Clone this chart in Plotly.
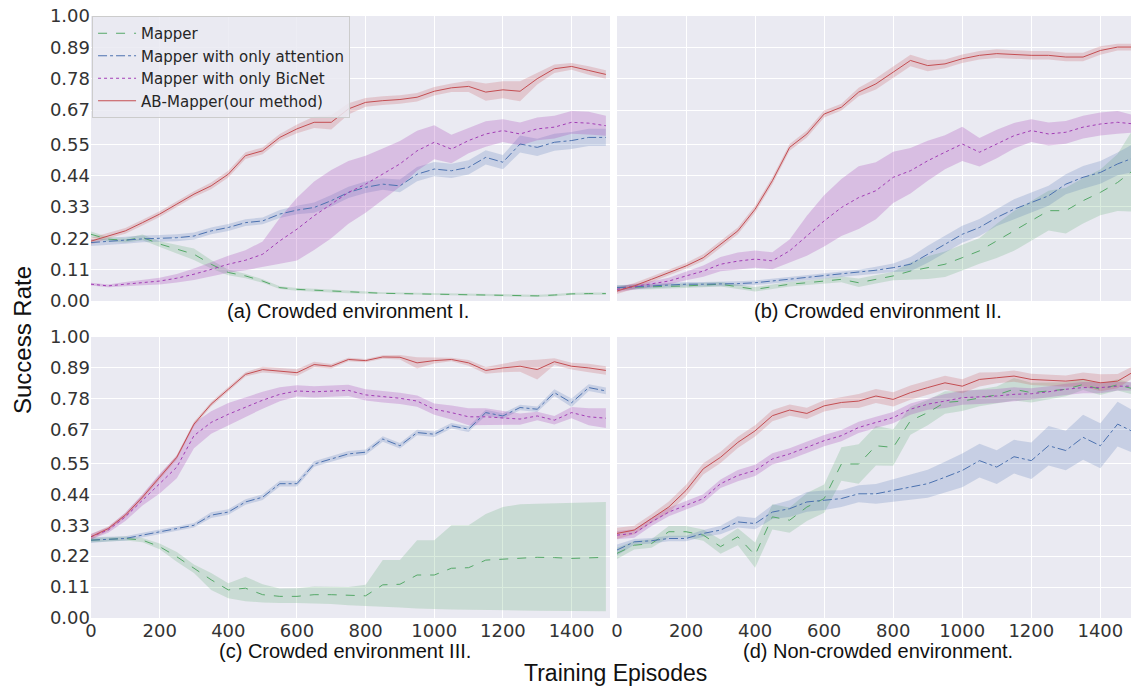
import plotly.graph_objects as go

# ---------------- data ----------------
episodes = list(range(0, 1501, 50))

series_names = ["Mapper", "Mapper with only attention", "Mapper with only BicNet", "AB-Mapper(our method)"]
series_colors = ["#55A868", "#4C72B0", "#A23DB5", "#C44E52"]
series_fills = ["rgba(85,168,104,0.22)", "rgba(76,114,176,0.22)", "rgba(162,61,181,0.25)", "rgba(196,78,82,0.22)"]
series_dash = ["dash", "dashdot", "dot", "solid"]

panel_titles = ["(a) Crowded environment I.", "(b) Crowded environment II.",
                "(c) Crowded environment III.", "(d) Non-crowded environment."]
y_tick_vals = [0.0, 0.11, 0.22, 0.33, 0.44, 0.55, 0.67, 0.78, 0.89, 1.0]
y_tick_text = ["0.00", "0.11", "0.22", "0.33", "0.44", "0.55", "0.67", "0.78", "0.89", "1.00"]
x_tick_vals = [0, 200, 400, 600, 800, 1000, 1200, 1400]

# Panel (a)
a_mapper = [0.234, 0.217, 0.213, 0.223, 0.2, 0.182, 0.164, 0.129, 0.1, 0.088, 0.07, 0.047, 0.041, 0.038, 0.035, 0.032,
            0.029, 0.027, 0.026, 0.025, 0.024, 0.023, 0.022, 0.021, 0.02, 0.019, 0.018, 0.021, 0.025, 0.026, 0.026]
a_mapper_hw = [0.01, 0.008, 0.008, 0.01, 0.01, 0.015, 0.02, 0.015, 0.01, 0.008, 0.006, 0.005, 0.005, 0.005, 0.005, 0.005,
               0.004, 0.004, 0.004, 0.004, 0.004, 0.004, 0.004, 0.004, 0.004, 0.004, 0.004, 0.004, 0.004, 0.004, 0.004]
a_att = [0.205, 0.21, 0.213, 0.218, 0.22, 0.222, 0.228, 0.246, 0.258, 0.275, 0.281, 0.305, 0.319, 0.328, 0.352, 0.381,
         0.399, 0.41, 0.404, 0.445, 0.463, 0.457, 0.469, 0.504, 0.487, 0.551, 0.539, 0.557, 0.563, 0.574, 0.574]
a_att_hw = [0.012, 0.012, 0.012, 0.012, 0.012, 0.012, 0.012, 0.012, 0.012, 0.012, 0.012, 0.014, 0.015, 0.018, 0.02, 0.02,
            0.02, 0.02, 0.022, 0.025, 0.025, 0.025, 0.025, 0.025, 0.025, 0.03, 0.03, 0.03, 0.03, 0.03, 0.03]
a_bic = [0.059, 0.053, 0.059, 0.065, 0.07, 0.08, 0.094, 0.111, 0.129, 0.143, 0.164, 0.211, 0.252, 0.299, 0.34, 0.381,
         0.41, 0.445, 0.481, 0.527, 0.557, 0.533, 0.563, 0.586, 0.598, 0.586, 0.604, 0.61, 0.627, 0.624, 0.615]
a_bic_hw = [0.005, 0.005, 0.008, 0.01, 0.012, 0.015, 0.02, 0.025, 0.03, 0.035, 0.045, 0.08, 0.11, 0.12, 0.12, 0.11,
            0.1, 0.09, 0.08, 0.07, 0.06, 0.05, 0.045, 0.045, 0.04, 0.04, 0.04, 0.04, 0.04, 0.04, 0.035]
a_ab = [0.21, 0.229, 0.246, 0.275, 0.305, 0.34, 0.375, 0.404, 0.445, 0.51, 0.527, 0.574, 0.604, 0.627, 0.627, 0.674,
        0.697, 0.703, 0.707, 0.715, 0.736, 0.748, 0.753, 0.733, 0.741, 0.736, 0.78, 0.815, 0.823, 0.809, 0.795]
a_ab_hw = [0.012, 0.01, 0.01, 0.01, 0.01, 0.01, 0.01, 0.012, 0.012, 0.012, 0.012, 0.012, 0.015, 0.02, 0.025, 0.02,
           0.015, 0.015, 0.015, 0.015, 0.015, 0.015, 0.02, 0.03, 0.03, 0.035, 0.02, 0.015, 0.012, 0.015, 0.015]

# Panel (b)
b_mapper = [0.047, 0.048, 0.049, 0.051, 0.053, 0.056, 0.059, 0.05, 0.041, 0.05, 0.059, 0.064, 0.07, 0.076, 0.064, 0.076,
            0.088, 0.105, 0.117, 0.129, 0.152, 0.176, 0.211, 0.246, 0.281, 0.317, 0.317, 0.352, 0.381, 0.416, 0.463]
b_mapper_hw = [0.008, 0.008, 0.008, 0.008, 0.008, 0.008, 0.008, 0.008, 0.008, 0.008, 0.008, 0.008, 0.008, 0.01, 0.015, 0.015,
               0.015, 0.03, 0.04, 0.045, 0.045, 0.045, 0.06, 0.07, 0.07, 0.07, 0.08, 0.08, 0.08, 0.1, 0.15]
b_att = [0.047, 0.05, 0.053, 0.056, 0.059, 0.059, 0.059, 0.061, 0.064, 0.07, 0.076, 0.082, 0.088, 0.094, 0.1, 0.108,
         0.117, 0.129, 0.164, 0.199, 0.234, 0.258, 0.293, 0.322, 0.346, 0.369, 0.41, 0.434, 0.451, 0.481, 0.504]
b_att_hw = [0.008, 0.008, 0.008, 0.008, 0.008, 0.008, 0.008, 0.008, 0.008, 0.008, 0.008, 0.008, 0.008, 0.008, 0.01, 0.012,
            0.015, 0.025, 0.03, 0.03, 0.03, 0.03, 0.03, 0.035, 0.035, 0.035, 0.035, 0.04, 0.04, 0.04, 0.05]
b_bic = [0.041, 0.05, 0.059, 0.07, 0.088, 0.105, 0.129, 0.14, 0.147, 0.141, 0.176, 0.229, 0.281, 0.328, 0.363, 0.387,
         0.434, 0.457, 0.492, 0.522, 0.551, 0.522, 0.551, 0.58, 0.598, 0.586, 0.592, 0.61, 0.621, 0.627, 0.621]
b_bic_hw = [0.01, 0.01, 0.01, 0.012, 0.015, 0.02, 0.025, 0.03, 0.03, 0.03, 0.04, 0.07, 0.09, 0.1, 0.11, 0.1,
            0.09, 0.08, 0.07, 0.06, 0.06, 0.05, 0.05, 0.045, 0.04, 0.04, 0.04, 0.04, 0.04, 0.04, 0.03]
b_ab = [0.035, 0.053, 0.076, 0.1, 0.123, 0.152, 0.199, 0.246, 0.322, 0.422, 0.539, 0.586, 0.656, 0.68, 0.733, 0.762,
        0.803, 0.844, 0.826, 0.832, 0.85, 0.862, 0.868, 0.865, 0.862, 0.862, 0.856, 0.856, 0.879, 0.891, 0.891]
b_ab_hw = [0.01, 0.01, 0.01, 0.01, 0.01, 0.012, 0.012, 0.012, 0.012, 0.012, 0.012, 0.012, 0.012, 0.012, 0.015, 0.02,
           0.02, 0.02, 0.02, 0.015, 0.015, 0.015, 0.015, 0.015, 0.015, 0.015, 0.015, 0.015, 0.015, 0.012, 0.012]

# Panel (c)
c_mapper = [0.277, 0.28, 0.283, 0.277, 0.254, 0.218, 0.177, 0.136, 0.1, 0.106, 0.083, 0.077, 0.077, 0.083, 0.083, 0.081,
            0.079, 0.118, 0.12, 0.153, 0.153, 0.177, 0.179, 0.206, 0.209, 0.213, 0.216, 0.215, 0.212, 0.214, 0.216]
c_mapper_lo = [0.27, 0.272, 0.276, 0.27, 0.245, 0.2, 0.16, 0.1, 0.07, 0.06, 0.055, 0.053, 0.053, 0.052, 0.05, 0.045,
               0.041, 0.04, 0.037, 0.034, 0.031, 0.03, 0.029, 0.028, 0.027, 0.027, 0.026, 0.026, 0.025, 0.024, 0.024]
c_mapper_hi = [0.285, 0.288, 0.29, 0.285, 0.265, 0.235, 0.19, 0.16, 0.124, 0.147, 0.12, 0.105, 0.106, 0.112, 0.11, 0.11,
               0.118, 0.206, 0.206, 0.277, 0.277, 0.33, 0.33, 0.37, 0.395, 0.405, 0.407, 0.409, 0.409, 0.413, 0.413]
c_att = [0.277, 0.28, 0.283, 0.295, 0.307, 0.318, 0.33, 0.366, 0.377, 0.413, 0.43, 0.478, 0.478, 0.548, 0.566, 0.584,
         0.59, 0.637, 0.613, 0.66, 0.654, 0.684, 0.672, 0.731, 0.719, 0.749, 0.743, 0.802, 0.766, 0.82, 0.808]
c_att_hw = [0.01, 0.008, 0.008, 0.008, 0.008, 0.008, 0.008, 0.01, 0.01, 0.01, 0.01, 0.01, 0.01, 0.01, 0.01, 0.01,
            0.01, 0.01, 0.01, 0.01, 0.01, 0.01, 0.01, 0.01, 0.01, 0.01, 0.01, 0.012, 0.015, 0.012, 0.012]
c_bic = [0.289, 0.313, 0.36, 0.42, 0.478, 0.537, 0.649, 0.696, 0.725, 0.751, 0.775, 0.796, 0.808, 0.805, 0.808, 0.81,
         0.794, 0.787, 0.782, 0.772, 0.743, 0.731, 0.716, 0.716, 0.713, 0.708, 0.719, 0.704, 0.731, 0.716, 0.711]
c_bic_hw = [0.01, 0.01, 0.015, 0.02, 0.035, 0.04, 0.045, 0.04, 0.04, 0.035, 0.03, 0.025, 0.02, 0.02, 0.02, 0.02,
            0.02, 0.02, 0.02, 0.02, 0.02, 0.025, 0.03, 0.03, 0.025, 0.02, 0.015, 0.015, 0.02, 0.03, 0.035]
c_ab = [0.289, 0.318, 0.366, 0.43, 0.501, 0.572, 0.69, 0.761, 0.814, 0.867, 0.884, 0.879, 0.873, 0.902, 0.896, 0.92,
        0.916, 0.929, 0.928, 0.908, 0.916, 0.92, 0.908, 0.881, 0.89, 0.896, 0.884, 0.912, 0.896, 0.89, 0.881]
c_ab_hw = [0.01, 0.008, 0.008, 0.008, 0.008, 0.008, 0.008, 0.008, 0.008, 0.008, 0.01, 0.01, 0.012, 0.01, 0.008, 0.006,
           0.006, 0.006, 0.008, 0.02, 0.01, 0.006, 0.01, 0.012, 0.015, 0.02, 0.035, 0.012, 0.012, 0.015, 0.015]

# Panel (d)
d_mapper = [0.23, 0.259, 0.265, 0.307, 0.307, 0.295, 0.254, 0.289, 0.224, 0.36, 0.348, 0.395, 0.425, 0.548, 0.548, 0.613,
            0.607, 0.702, 0.731, 0.767, 0.772, 0.784, 0.794, 0.814, 0.802, 0.808, 0.814, 0.831, 0.814, 0.83, 0.814]
d_mapper_hw = [0.02, 0.015, 0.015, 0.02, 0.02, 0.02, 0.025, 0.03, 0.045, 0.045, 0.045, 0.05, 0.05, 0.06, 0.07, 0.07,
               0.065, 0.05, 0.045, 0.04, 0.035, 0.03, 0.03, 0.04, 0.035, 0.03, 0.025, 0.02, 0.02, 0.02, 0.02]
d_att = [0.242, 0.271, 0.275, 0.283, 0.283, 0.301, 0.313, 0.342, 0.336, 0.377, 0.389, 0.413, 0.419, 0.425, 0.442, 0.442,
         0.454, 0.466, 0.478, 0.501, 0.525, 0.56, 0.537, 0.574, 0.56, 0.613, 0.596, 0.643, 0.613, 0.69, 0.66]
d_att_hw = [0.02, 0.01, 0.01, 0.01, 0.01, 0.012, 0.015, 0.02, 0.02, 0.025, 0.03, 0.035, 0.035, 0.03, 0.03, 0.035,
            0.04, 0.045, 0.05, 0.055, 0.06, 0.06, 0.06, 0.06, 0.065, 0.07, 0.07, 0.08, 0.08, 0.08, 0.075]
d_bic = [0.295, 0.301, 0.342, 0.377, 0.401, 0.425, 0.478, 0.507, 0.525, 0.566, 0.584, 0.607, 0.631, 0.649, 0.678, 0.696,
         0.713, 0.743, 0.761, 0.772, 0.784, 0.787, 0.79, 0.796, 0.798, 0.805, 0.814, 0.82, 0.82, 0.825, 0.825]
d_bic_hw = [0.015, 0.015, 0.015, 0.015, 0.015, 0.015, 0.015, 0.02, 0.02, 0.02, 0.02, 0.02, 0.02, 0.02, 0.02, 0.02,
            0.02, 0.02, 0.02, 0.025, 0.025, 0.025, 0.025, 0.025, 0.02, 0.02, 0.02, 0.02, 0.02, 0.015, 0.015]
d_ab = [0.301, 0.313, 0.354, 0.395, 0.454, 0.531, 0.572, 0.625, 0.666, 0.72, 0.74, 0.728, 0.755, 0.767, 0.772, 0.79,
        0.778, 0.802, 0.82, 0.837, 0.825, 0.849, 0.855, 0.861, 0.849, 0.846, 0.843, 0.849, 0.837, 0.843, 0.879]
d_ab_hw = [0.02, 0.015, 0.015, 0.02, 0.02, 0.02, 0.02, 0.02, 0.02, 0.02, 0.02, 0.02, 0.02, 0.02, 0.025, 0.025,
           0.025, 0.025, 0.025, 0.025, 0.025, 0.025, 0.02, 0.02, 0.02, 0.02, 0.02, 0.025, 0.03, 0.025, 0.02]

panels = [
    [(a_mapper, a_mapper_hw), (a_att, a_att_hw), (a_bic, a_bic_hw), (a_ab, a_ab_hw)],
    [(b_mapper, b_mapper_hw), (b_att, b_att_hw), (b_bic, b_bic_hw), (b_ab, b_ab_hw)],
    [(c_mapper, (c_mapper_lo, c_mapper_hi)), (c_att, c_att_hw), (c_bic, c_bic_hw), (c_ab, c_ab_hw)],
    [(d_mapper, d_mapper_hw), (d_att, d_att_hw), (d_bic, d_bic_hw), (d_ab, d_ab_hw)],
]

# ---------------- figure ----------------
fig = go.Figure()
axis_ids = ["", "2", "3", "4"]

for p, panel in enumerate(panels):
    xa = "x" + axis_ids[p]
    ya = "y" + axis_ids[p]
    for s, (mean, band) in enumerate(panel):
        if isinstance(band, tuple):
            lo, hi = band
        else:
            lo = [m - h for m, h in zip(mean, band)]
            hi = [m + h for m, h in zip(mean, band)]
        fig.add_trace(go.Scatter(
            x=episodes + episodes[::-1], y=hi + lo[::-1], fill="toself",
            fillcolor=series_fills[s], line=dict(width=0), mode="lines",
            hoverinfo="skip", showlegend=False, xaxis=xa, yaxis=ya))
    for s, (mean, band) in enumerate(panel):
        fig.add_trace(go.Scatter(
            x=episodes, y=mean, mode="lines", name=series_names[s],
            line=dict(color=series_colors[s], width=1.0, dash=series_dash[s]),
            showlegend=(p == 0), legendrank=s, xaxis=xa, yaxis=ya))

# The page body has an 8px default margin: the figure is drawn at (8, 8).
OFF = 8
W, H = 1139 - OFF, 687 - OFF
ml, mr, mt, mb = 91 - OFF, 0, 16 - OFF, 69
pw, ph = W - ml - mr, H - mt - mb


def px_x(x_ref):
    return (x_ref - OFF - ml) / pw


def px_y(y_ref):
    return (H - mb - (y_ref - OFF)) / ph


xdom_left = [0, px_x(610)]
xdom_right = [px_x(617), 1]
ydom_top = [px_y(301), 1]
ydom_bot = [0, px_y(337)]

ytickfont = dict(family="DejaVu Sans", size=18, color="#333333")
xtickfont = dict(family="DejaVu Sans", size=18, color="#333333")


def xaxis(dom, anchor, show):
    return dict(domain=dom, anchor=anchor, range=[0, 1512], tickvals=x_tick_vals,
                showticklabels=show, tickfont=xtickfont, gridcolor="white", gridwidth=1,
                zeroline=False, showline=False, ticks="", automargin=False,
                ticklabeloverflow="allow", ticklabelstandoff=0)


def yaxis(dom, anchor, show):
    return dict(domain=dom, anchor=anchor, range=[0, 1], tickvals=y_tick_vals, ticktext=y_tick_text,
                showticklabels=show, tickfont=ytickfont, gridcolor="white", gridwidth=1,
                zeroline=False, showline=False, ticks="", automargin=False,
                ticklabeloverflow="allow")


fig.update_layout(
    width=W, height=H,
    margin=dict(l=ml, r=mr, t=mt, b=mb, pad=0),
    paper_bgcolor="white", plot_bgcolor="#EAEAF2",
    xaxis=xaxis(xdom_left, "y", False), yaxis=yaxis(ydom_top, "x", True),
    xaxis2=xaxis(xdom_right, "y2", False), yaxis2=yaxis(ydom_top, "x2", False),
    xaxis3=xaxis(xdom_left, "y3", True), yaxis3=yaxis(ydom_bot, "x3", True),
    xaxis4=xaxis(xdom_right, "y4", True), yaxis4=yaxis(ydom_bot, "x4", False),
    legend=dict(x=0.001, y=1, xanchor="left", yanchor="top",
                bgcolor="rgba(234,234,242,0.85)", bordercolor="#CCCCCC", borderwidth=1,
                font=dict(family="DejaVu Sans", size=15, color="#262626"),
                itemwidth=38, tracegroupgap=0),
    showlegend=True,
)

label_font = dict(family="Liberation Sans", size=20, color="#111111")
label_pos = [(348, 311), (878, 311), (345, 651), (878, 651)]
for t, (rx, ry) in zip(panel_titles, label_pos):
    fig.add_annotation(text=t, x=px_x(rx), y=px_y(ry), xref="paper", yref="paper",
                       xanchor="center", yanchor="middle", showarrow=False, font=label_font)

fig.add_annotation(text="Training Episodes", x=px_x(615), y=px_y(673),
                   xref="paper", yref="paper", xanchor="center", yanchor="middle", showarrow=False,
                   font=dict(family="Liberation Sans", size=23, color="#111111"))
fig.add_annotation(text="Success Rate", x=px_x(22), y=px_y(340), textangle=-90,
                   xref="paper", yref="paper", xanchor="center", yanchor="middle", showarrow=False,
                   font=dict(family="Liberation Sans", size=24, color="#111111"))

fig.write_html("out.html")
